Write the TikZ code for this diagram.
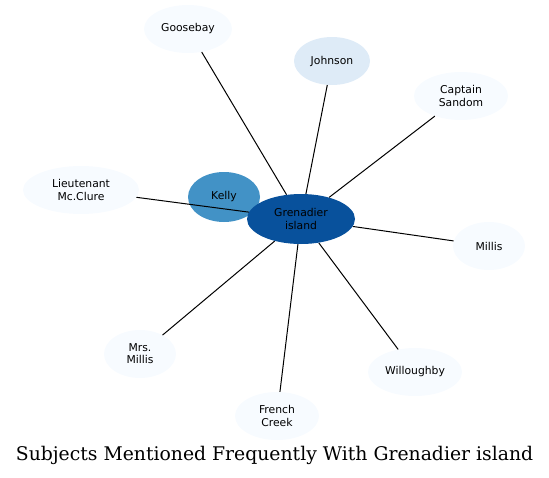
\documentclass[tikz,border=0pt]{standalone}
\usepackage{fontspec}
\setmainfont{DejaVu Sans}
\newfontfamily\titlefont{DejaVu Serif}
\usetikzlibrary{shapes.geometric}
\definecolor{cdark}{RGB}{8,81,156}
\definecolor{cmid}{RGB}{66,146,198}
\definecolor{clight}{RGB}{222,235,247}
\definecolor{cpale}{RGB}{247,251,255}
\begin{document}
\begin{tikzpicture}[x=1pt,y=-1pt,
  nd/.style={ellipse, inner sep=0pt, align=center, text=black, font=\fontsize{10.8}{12.2}\selectfont, draw=none},
  pale/.style={nd, fill=cpale},
  link/.style={draw=black, line width=1pt}]
\useasboundingbox (0,0) rectangle (549,477);
\node[pale, minimum width=88pt, minimum height=48pt] (goose) at (188,29) {Goosebay};
\node[nd, fill=clight, minimum width=76pt, minimum height=48pt] (johnson) at (332,61) {Johnson};
\node[pale, minimum width=94pt, minimum height=48pt] (sandom) at (461,96) {Captain\\Sandom};
\node[pale, minimum width=116pt, minimum height=48pt] (clure) at (81,190) {Lieutenant\\Mc.Clure};
\node[pale, minimum width=72pt, minimum height=48pt] (millis) at (489,246) {Millis};
\node[pale, minimum width=94pt, minimum height=48pt] (will) at (415,372) {Willoughby};
\node[pale, minimum width=84pt, minimum height=48pt] (french) at (277,416) {French\\Creek};
\node[pale, minimum width=72pt, minimum height=48pt] (mrs) at (140,354) {Mrs.\\Millis};
\node[nd, fill=cmid, minimum width=72pt, minimum height=50pt] (kelly) at (224,197) {Kelly};
\node[nd, minimum width=108pt, minimum height=50pt] (gren) at (301,219) {};
\foreach \n in {goose,johnson,sandom,clure,millis,will,french,mrs}
  \draw[link] (gren) -- (\n);
\node[nd, fill=cdark, minimum width=108pt, minimum height=50pt] (grenfill) at (301,219) {Grenadier\\island};
\node[font=\titlefont\fontsize{18.8}{22}\selectfont] (title) at (274.5,455) {Subjects Mentioned Frequently With Grenadier island};
\end{tikzpicture}
\end{document}
